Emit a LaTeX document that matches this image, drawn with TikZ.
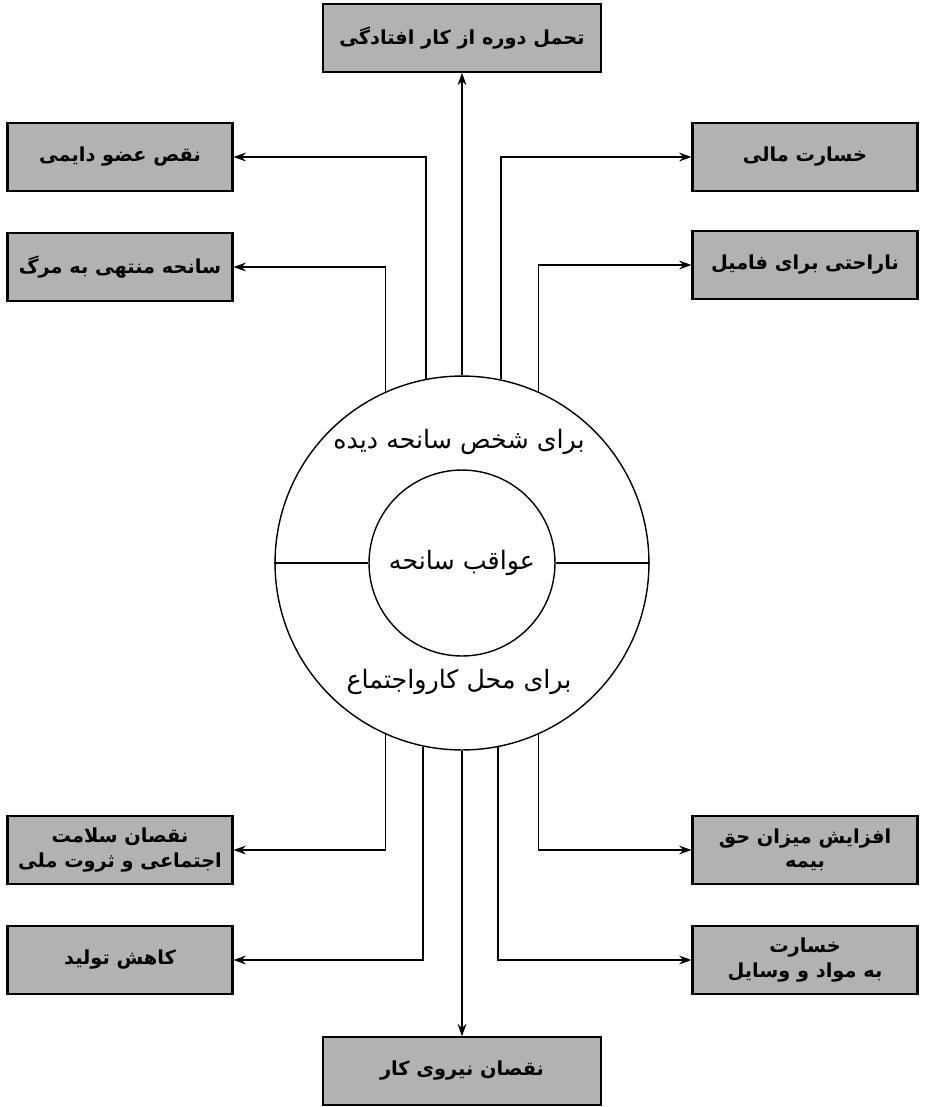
\documentclass[tikz,border=0pt]{standalone}
\usepackage{fontspec}
\newfontfamily\arabicfont[Script=Arabic]{DejaVu Sans}
\TeXXeTstate=1
\newcommand{\fa}[1]{{\arabicfont\beginR #1\endR}}
\usetikzlibrary{positioning,arrows.meta}

\begin{document}
\begin{tikzpicture}[x=0.02cm, y=-0.02cm, >={Stealth[length=7pt,width=5pt]}, every node/.style={font=\Large}]
\tikzset{
  conbox/.style={rectangle, draw, very thick, fill=black!30, minimum width=4.5cm, minimum height=1.35cm, align=center, inner sep=2pt, font=\fontsize{11}{14}\selectfont\bfseries},
  bigbox/.style={conbox, minimum width=5.55cm},
  ring/.style={circle, draw, thick, inner sep=0pt},
  link/.style={->, line width=0.8pt}
}
\useasboundingbox (0,0) rectangle (929,1107);
\node[ring, minimum size=7.48cm] (outer) at (462,563) {};
\node[ring, minimum size=3.72cm] (inner) at (462,563) {\fa{عواقب سانحه}};
\draw[thick] (outer.west) -- (inner.west);
\draw[thick] (inner.east) -- (outer.east);
\node (self) at (459,442) {\fa{برای شخص سانحه دیده}};
\node (work) at (459,682) {\fa{برای محل کارواجتماع}};
% top side
\node[bigbox] (top) at (462,38) {\fa{تحمل دوره از کار افتادگی}};
\node[conbox] (L1) at (120,157) {\fa{نقص عضو دایمی}};
\node[conbox] (L2) at (120,267) {\fa{سانحه منتهی به مرگ}};
\node[conbox] (R1) at (805,157) {\fa{خسارت مالی}};
\node[conbox] (R2) at (805,265) {\fa{ناراحتی برای فامیل}};
\draw[link] (outer.north) -- (top.south);
\draw[link] (outer.101.7) |- (L1.east);
\draw[link] (outer.114) |- (L2.east);
\draw[link] (outer.78.3) |- (R1.west);
\draw[link] (outer.66) |- (R2.west);
% bottom side
\node[conbox] (BL1) at (120,850) {\fa{نقصان سلامت}\\\fa{اجتماعی و ثروت ملی}};
\node[conbox] (BL2) at (120,960) {\fa{کاهش تولید}};
\node[conbox] (BR1) at (805,850) {\fa{افزایش میزان حق}\\\fa{بیمه}};
\node[conbox] (BR2) at (805,960) {\fa{خسارت}\\\fa{به مواد و وسایل}};
\node[bigbox] (bottom) at (462,1071) {\fa{نقصان نیروی کار}};
\draw[link] (outer.south) -- (bottom.north);
\draw[link] (outer.246) |- (BL1.east);
\draw[link] (outer.258.3) |- (BL2.east);
\draw[link] (outer.294) |- (BR1.west);
\draw[link] (outer.281.7) |- (BR2.west);
\end{tikzpicture}
\end{document}
